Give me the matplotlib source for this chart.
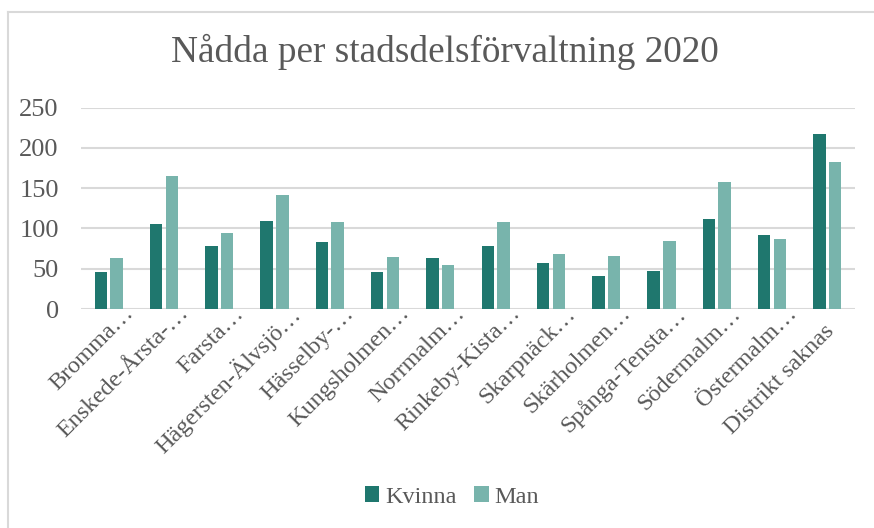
import matplotlib
matplotlib.use('Agg')
import matplotlib.pyplot as plt
import matplotlib.transforms as mtransforms
import numpy as np

# Nådda per stadsdelsförvaltning 2020
categories = ['Bromma…', 'Enskede-Årsta-…', 'Farsta…', 'Hägersten-Älvsjö…',
              'Hässelby-…', 'Kungsholmen…', 'Norrmalm…', 'Rinkeby-Kista…',
              'Skarpnäck…', 'Skärholmen…', 'Spånga-Tensta…', 'Södermalm…',
              'Östermalm…', 'Distrikt saknas']
kvinna = [46, 105, 78, 109, 83, 46, 63, 78, 57, 41, 47, 112, 92, 217]
man = [63, 165, 95, 141, 108, 65, 55, 108, 68, 66, 85, 158, 87, 182]
yticks = [0, 50, 100, 150, 200, 250]

GRAY = '#595959'
DARK = '#1F776E'
LIGHT = '#78B4AC'

plt.rcParams['font.family'] = ['Liberation Serif', 'DejaVu Serif']

fig = plt.figure(figsize=(8.74, 5.28), dpi=100)
ax = fig.add_axes([81 / 874, 1 - 309 / 528, (855 - 81) / 874, (309 - 107.7) / 528])

x = np.arange(len(categories))
w = 0.225
ax.bar(x - w / 2 - 0.03, kvinna, w, color=DARK, label='Kvinna', zorder=3)
ax.bar(x + w / 2 + 0.03, man, w, color=LIGHT, label='Man', zorder=3)

ax.set_xlim(-0.5, len(categories) - 0.5)
ax.set_ylim(0, 250)
ax.set_yticks(yticks)
ax.yaxis.grid(True, color='#D9D9D9', linewidth=1.5, zorder=0)
ax.tick_params(axis='y', length=0, pad=16, labelsize=19, labelcolor=GRAY)
ax.tick_params(axis='x', length=0, pad=0)
for s in ax.spines.values():
    s.set_visible(False)

ax.set_xticks(x)
labels = ax.set_xticklabels(categories, rotation=45, ha='right', va='top',
                            rotation_mode='anchor', fontsize=17.5, color=GRAY)
# truncated labels (with …) sit a bit further along than the full one
for lab in labels:
    if lab.get_text().endswith('…'):
        dx, dy = 14, 6
    else:
        dx, dy = -4, -12
    offset = mtransforms.ScaledTranslation(dx / 100, dy / 100, fig.dpi_scale_trans)
    lab.set_transform(lab.get_transform() + offset)

fig.text(445 / 874, 1 - 52 / 528, 'Nådda per stadsdelsförvaltning 2020',
         ha='center', va='center', fontsize=26.8, color=GRAY)

leg = fig.legend(loc='center', bbox_to_anchor=(452 / 874, 1 - 497 / 528), ncol=2,
                 frameon=False, fontsize=17.5, handlelength=0.6, handleheight=0.6,
                 handletextpad=0.25, columnspacing=0.7)
for t in leg.get_texts():
    t.set_color(GRAY)

# chart area border (left and top edges visible)
fig.add_artist(plt.Line2D([7.5 / 874, 7.5 / 874], [0, 1 - 11.5 / 528],
                          transform=fig.transFigure, color='#D9D9D9', linewidth=1.5))
fig.add_artist(plt.Line2D([7.5 / 874, 1], [1 - 11.5 / 528, 1 - 11.5 / 528],
                          transform=fig.transFigure, color='#D9D9D9', linewidth=1.5))

fig.savefig('out.png', dpi=100)
